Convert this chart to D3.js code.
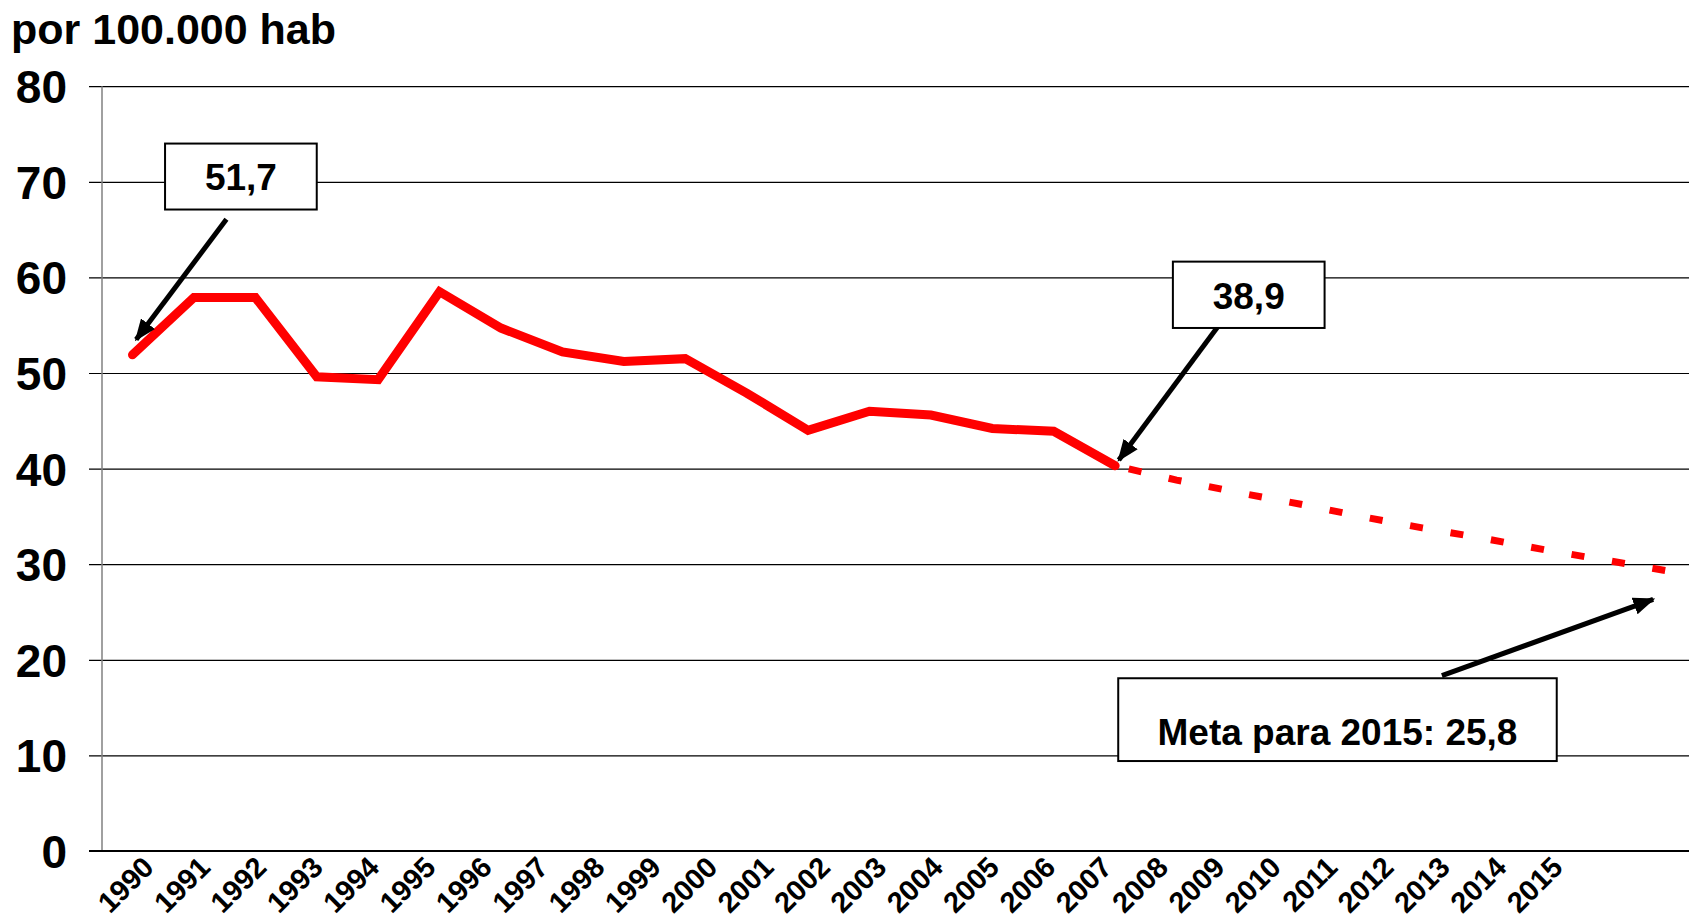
<!DOCTYPE html>
<html>
<head>
<meta charset="utf-8">
<script src="https://cdn.jsdelivr.net/npm/d3@7"></script>
<style>
  body { margin: 0; background: #fff; }
  svg text { font-family: "Liberation Sans", Arial, sans-serif; font-weight: bold; fill: #000; }
</style>
</head>
<body>
<svg id="chart" width="1689" height="923"></svg>
<script>
// Taxa por 100.000 hab, 1990-2015 (observado + projeção até a meta)

var anos = [1990, 1991, 1992, 1993, 1994, 1995, 1996, 1997, 1998, 1999, 2000, 2001, 2002,
            2003, 2004, 2005, 2006, 2007, 2008, 2009, 2010, 2011, 2012, 2013, 2014, 2015];

var anos_observados = [1990, 1991, 1992, 1993, 1994, 1995, 1996, 1997, 1998, 1999, 2000, 2001, 2002, 2003, 2004, 2005, 2006];
var taxas_observadas = [51.9, 57.9, 57.9, 49.6, 49.3, 58.5, 54.7, 52.2, 51.2, 51.5, 47.9, 44.0, 46.0, 45.6, 44.2, 43.9, 40.3];

var anos_projecao = [2006, 2007, 2008, 2009, 2010, 2011, 2012, 2013, 2014, 2015];
var taxas_projecao = [40.3, 38.8, 37.5, 36.3, 35.0, 33.8, 32.7, 31.5, 30.4, 29.3];

var y_ticks = [0, 10, 20, 30, 40, 50, 60, 70, 80];

// Anotações (em unidades de ano / taxa)
var caixas_texto = ["51,7", "38,9", "Meta para 2015: 25,8"];
var caixas_x = [[1990.53, 1993.0], [2006.94, 2009.41], [2006.05, 2013.19]];
var caixas_y = [[74.0, 67.1], [61.65, 54.71], [18.07, 9.41]];
var caixas_base = [69.1, 56.67, 11.09];
var setas_origem = [[1991.53, 66.08], [2007.68, 54.92], [2011.32, 18.34]];
var setas_ponta = [[1990.06, 53.5], [2006.06, 40.9], [2014.76, 26.33]];

var svg = d3.select("#chart");
var W = 1689;

var x = d3.scaleLinear().domain([1990, 2015]).range([132.5, 1667.9]);
var y = d3.scaleLinear().domain([0, 80]).range([851, 86.2]);
// les étiquettes de l'axe x ont leur propre espacement
var x_labels = d3.scalePoint().domain(anos).range([155, 1564]);

var axe_x0 = 102;

// Titre
svg.append("text")
    .attr("x", 11)
    .attr("y", 44)
    .attr("font-size", "43px")
    .text("por 100.000 hab");

// Grille + étiquettes y
var y_axis = svg.append("g")
    .attr("transform", `translate(${W},0)`)
    .call(d3.axisLeft(y).tickValues(y_ticks).tickSize(W - 89).tickPadding(22).tickFormat(d3.format("d")));
y_axis.select(".domain").remove();
y_axis.selectAll(".tick line")
    .attr("stroke", "#000")
    .attr("stroke-width", 1.2);
y_axis.selectAll(".tick text")
    .attr("font-size", "46px")
    .attr("font-family", null)
    .attr("dy", "0.36em");

// Axe y vertical
svg.append("line")
    .attr("x1", axe_x0).attr("x2", axe_x0)
    .attr("y1", y(80)).attr("y2", y(0))
    .attr("stroke", "#808080")
    .attr("stroke-width", 1.5);

// Axe x
var x_axis = svg.append("g")
    .attr("transform", `translate(0,${y(0)})`)
    .call(d3.axisBottom(x_labels).tickSize(0).tickFormat(d3.format("d")));
x_axis.select(".domain").remove();
x_axis.selectAll(".tick text")
    .attr("font-size", "29px")
    .attr("font-family", null)
    .attr("text-anchor", "end")
    .attr("y", 0)
    .attr("dy", 0)
    .attr("transform", "translate(0,18) rotate(-45)");

svg.append("line")
    .attr("x1", 89).attr("x2", W)
    .attr("y1", y(0)).attr("y2", y(0))
    .attr("stroke", "#000")
    .attr("stroke-width", 2);

// Série observée
var ligne = d3.line().x(d => x(d[0])).y(d => y(d[1]));

svg.append("path")
    .datum(anos_observados.map((a, i) => [a, taxas_observadas[i]]))
    .attr("d", ligne)
    .attr("fill", "none")
    .attr("stroke", "#ff0000")
    .attr("stroke-width", 9)
    .attr("stroke-linecap", "round")
    .attr("stroke-linejoin", "miter");

// Projection en tirets
svg.append("path")
    .datum(anos_projecao.map((a, i) => [a, taxas_projecao[i]]))
    .attr("d", ligne)
    .attr("fill", "none")
    .attr("stroke", "#ff0000")
    .attr("stroke-width", 7)
    .attr("stroke-dasharray", "13,28")
    .attr("stroke-dashoffset", -14);

// Flèches
svg.append("defs").append("marker")
    .attr("id", "fleche")
    .attr("markerUnits", "userSpaceOnUse")
    .attr("viewBox", "0 0 20 16")
    .attr("refX", 18).attr("refY", 8)
    .attr("markerWidth", 22).attr("markerHeight", 18)
    .attr("orient", "auto")
    .append("path")
    .attr("d", "M0,0 L20,8 L0,16 Z")
    .attr("fill", "#000");

setas_origem.forEach((o, i) => {
    var p = setas_ponta[i];
    svg.append("line")
        .attr("x1", x(o[0])).attr("y1", y(o[1]))
        .attr("x2", x(p[0])).attr("y2", y(p[1]))
        .attr("stroke", "#000")
        .attr("stroke-width", 5)
        .attr("marker-end", "url(#fleche)");
});

// Boîtes de texte
caixas_texto.forEach((t, i) => {
    var x0 = x(caixas_x[i][0]), x1 = x(caixas_x[i][1]);
    var y0 = y(caixas_y[i][0]), y1 = y(caixas_y[i][1]);
    svg.append("rect")
        .attr("x", x0).attr("y", y0)
        .attr("width", x1 - x0).attr("height", y1 - y0)
        .attr("fill", "#fff")
        .attr("stroke", "#000")
        .attr("stroke-width", 2);
    svg.append("text")
        .attr("x", (x0 + x1) / 2)
        .attr("y", y(caixas_base[i]))
        .attr("text-anchor", "middle")
        .attr("font-size", "37px")
        .text(t);
});
</script>
</body>
</html>
